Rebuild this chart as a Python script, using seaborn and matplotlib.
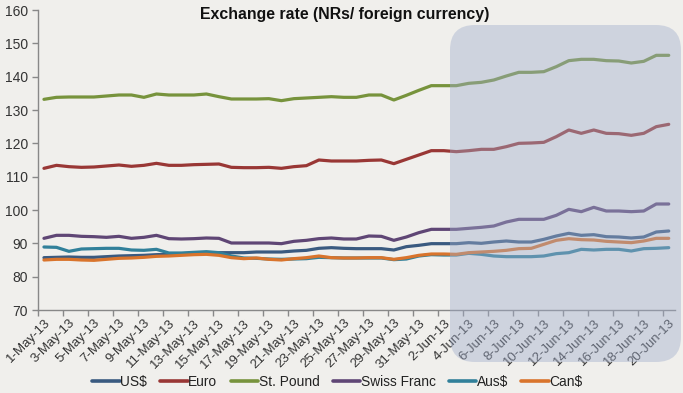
import numpy as np
import pandas as pd
import matplotlib
matplotlib.use("Agg")
import matplotlib.pyplot as plt
from matplotlib.patches import FancyBboxPatch
from matplotlib.ticker import FixedLocator
import seaborn as sns

# Daily rates, 1-May-13 .. 20-Jun-13 (51 days)
dates = pd.date_range("2013-05-01", periods=51, freq="D")
currencies = ["US$", "Euro", "St. Pound", "Swiss Franc", "Aus$", "Can$"]

us_dollar = [85.7, 85.8, 85.9, 85.8, 85.8, 86.0, 86.2, 86.3, 86.4, 86.6, 86.7, 86.9, 87.0, 87.1, 87.2, 87.2, 87.2,
             87.4, 87.4, 87.4, 87.7, 87.9, 88.5, 88.7, 88.5, 88.4, 88.4, 88.4, 88.0, 89.0, 89.4, 89.9, 89.9, 89.9,
             90.2, 90.0, 90.4, 90.7, 90.4, 90.4, 91.2, 92.2, 93.0, 92.4, 92.6, 92.0, 91.9, 91.6, 91.9, 93.4, 93.7]
euro = [112.5, 113.4, 113.0, 112.8, 112.9, 113.2, 113.5, 113.1, 113.4, 114.0, 113.4, 113.4, 113.6, 113.7, 113.8, 112.8, 112.7,
        112.7, 112.8, 112.5, 113.0, 113.3, 115.0, 114.7, 114.7, 114.7, 114.9, 115.0, 113.9, 115.2, 116.5, 117.8, 117.8, 117.5,
        117.8, 118.2, 118.2, 119.0, 120.0, 120.1, 120.3, 122.0, 124.0, 123.0, 124.0, 123.0, 122.9, 122.4, 123.0, 125.0, 125.7]
pound = [133.2, 133.8, 133.9, 133.9, 133.9, 134.2, 134.5, 134.5, 133.8, 134.8, 134.5, 134.5, 134.5, 134.8, 134.0, 133.3, 133.3,
         133.3, 133.4, 132.8, 133.4, 133.6, 133.8, 134.0, 133.8, 133.8, 134.5, 134.5, 133.0, 134.4, 135.9, 137.3, 137.3, 137.3,
         138.0, 138.3, 139.0, 140.2, 141.3, 141.3, 141.5, 143.0, 144.8, 145.2, 145.2, 144.8, 144.7, 144.1, 144.6, 146.4, 146.4]
swiss_franc = [91.5, 92.4, 92.4, 92.1, 92.0, 91.8, 92.1, 91.5, 91.8, 92.4, 91.4, 91.3, 91.4, 91.6, 91.5, 90.1, 90.1,
               90.1, 90.1, 89.9, 90.6, 90.9, 91.4, 91.6, 91.3, 91.3, 92.2, 92.1, 90.9, 91.9, 93.2, 94.2, 94.2, 94.2,
               94.5, 94.8, 95.2, 96.4, 97.2, 97.2, 97.2, 98.4, 100.2, 99.5, 100.8, 99.7, 99.7, 99.5, 99.7, 101.8, 101.8]
aus_dollar = [88.9, 88.8, 87.6, 88.3, 88.4, 88.5, 88.5, 88.0, 87.9, 88.2, 87.1, 87.1, 87.3, 87.5, 87.2, 86.2, 85.6,
              85.5, 85.3, 85.2, 85.3, 85.4, 85.8, 85.7, 85.6, 85.6, 85.6, 85.6, 85.1, 85.3, 86.2, 86.6, 86.5, 86.5,
              87.0, 86.7, 86.2, 86.0, 86.0, 86.0, 86.2, 86.9, 87.2, 88.2, 88.0, 88.2, 88.2, 87.7, 88.4, 88.5, 88.7]
can_dollar = [85.0, 85.2, 85.2, 85.0, 84.9, 85.2, 85.5, 85.6, 85.8, 86.1, 86.2, 86.4, 86.6, 86.7, 86.4, 85.7, 85.4,
              85.6, 85.2, 85.0, 85.4, 85.7, 86.2, 85.7, 85.6, 85.6, 85.7, 85.7, 85.2, 85.7, 86.4, 86.8, 86.8, 86.7,
              87.2, 87.4, 87.6, 87.9, 88.4, 88.5, 89.7, 90.9, 91.4, 91.1, 91.0, 90.6, 90.4, 90.2, 90.7, 91.5, 91.5]

colors = ["#3a5a80", "#993735", "#77933c", "#5f4675", "#31809a", "#d9742c"]
y_ticks = list(range(70, 161, 10))
tick_labels = [f"{d.day}-{d.strftime('%b-%y')}" for d in dates]

# long format for seaborn
series = [us_dollar, euro, pound, swiss_franc, aus_dollar, can_dollar]
df = pd.concat([pd.DataFrame({"day": np.arange(len(dates)), "rate": vals, "currency": name})
                for name, vals in zip(currencies, series)], ignore_index=True)

bg = "#f0efec"
sns.set_theme(style="white")
plt.rcParams["font.family"] = ["Liberation Sans", "DejaVu Sans"]

fig = plt.figure(figsize=(6.83, 3.93), dpi=100, facecolor=bg)
ax = fig.add_axes([37.7 / 683, 1 - 310 / 393, (675 - 37.7) / 683, 300 / 393])
ax.set_facecolor(bg)

sns.lineplot(data=df, x="day", y="rate", hue="currency", hue_order=currencies,
             palette=colors, linewidth=2.3, ax=ax)
for ln in ax.get_lines():
    ln.set_solid_capstyle("round")
    ln.set_solid_joinstyle("round")

handles, labels = ax.get_legend_handles_labels()
ax.get_legend().remove()

ax.set_xlim(-0.5, len(dates) - 0.5)
ax.set_ylim(70, 160)
ax.set_yticks(y_ticks)
ax.set_xticks(np.arange(0, len(dates), 2))
ax.set_xticklabels(tick_labels[::2], rotation=45, ha="right", rotation_mode="anchor")
ax.xaxis.set_minor_locator(FixedLocator(np.arange(-0.5, len(dates) - 1, 2)))
ax.tick_params(axis="x", which="major", length=0, pad=5, labelsize=9.5, colors="#333333")
ax.tick_params(axis="x", which="minor", length=4, width=1, color="#888888", bottom=True)
ax.tick_params(axis="y", length=4, width=1, color="#888888", pad=3, labelsize=10, labelcolor="#333333", left=True)
ax.set_xlabel("")
ax.set_ylabel("")
for side in ["top", "right"]:
    ax.spines[side].set_visible(False)
for side in ["left", "bottom"]:
    ax.spines[side].set_color("#888888")
    ax.spines[side].set_linewidth(1)

fig.text(0.504, 1 - 15 / 393, "Exchange rate (NRs/ foreign currency)", ha="center", va="center",
         fontsize=11.4, fontweight="bold", color="#111111")

leg = fig.legend(handles, labels, loc="center", bbox_to_anchor=(0.494, 1 - 382 / 393), ncol=6,
                 frameon=False, fontsize=9.9, handlelength=2.0, handletextpad=0.05, columnspacing=0.95)
for h in leg.get_lines():
    h.set_linewidth(2.6)
for t in leg.get_texts():
    t.set_color("#222222")

# translucent rounded highlight over June
hl = FancyBboxPatch((4.50, 0.31), 2.31, 3.37, boxstyle="round,pad=0,rounding_size=0.25",
                    transform=fig.dpi_scale_trans, facecolor="#a0adcb", edgecolor="none",
                    alpha=0.42, zorder=10)
fig.patches.append(hl)

fig.savefig("out.png", dpi=100, facecolor=bg)
